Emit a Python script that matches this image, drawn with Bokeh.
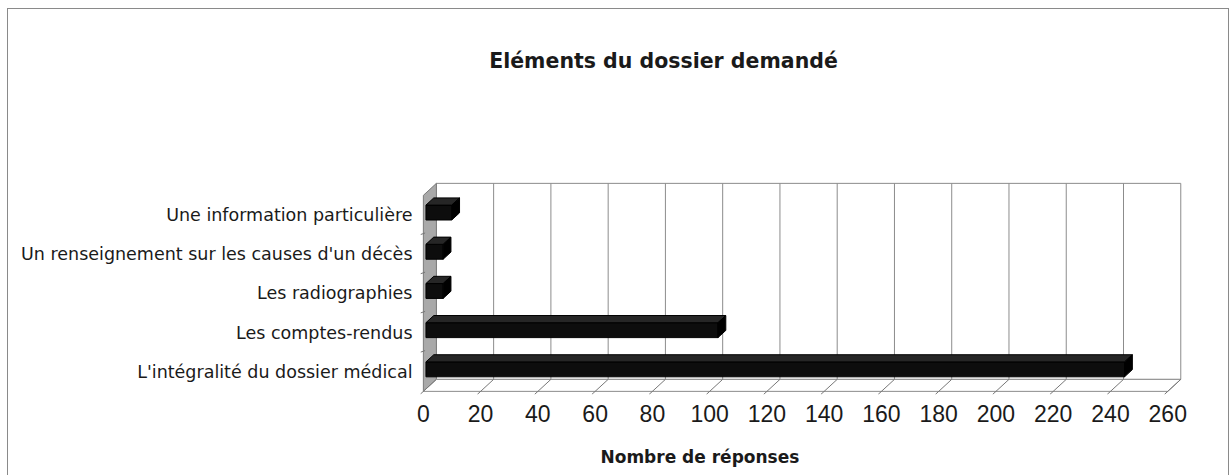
from bokeh.plotting import figure
from bokeh.models import Range1d, FixedTicker, Title
from bokeh.core.properties import value
from bokeh.embed import file_html
from bokeh.resources import INLINE

# ---------------- data ----------------
categories = [
    "L'intégralité du dossier médical",
    "Les comptes-rendus",
    "Les radiographies",
    "Un renseignement sur les causes d'un décès",
    "Une information particulière",
]
responses = [244, 102, 6, 6, 9]
x_ticks = [0, 20, 40, 60, 80, 100, 120, 140, 160, 180, 200, 220, 240, 260]
chart_title = "Eléments du dossier demandé"
x_title = "Nombre de réponses"

# ---------------- 3D geometry (data units) ----------------
X_MAX = x_ticks[-1]
N = len(categories)
DX = 4.545   # depth shift along x (value units)
DY = 0.306   # depth shift along y (category units)
D0, D1 = 0.2, 0.8   # bar depth span (fraction of full depth)
BH = 0.38            # bar front-face height (category units)

FRAME_W, FRAME_H = 763, 385
X0, X1 = -1, 265.5
PX_PER_CAT = 39.2
Y0 = -0.08
Y1 = Y0 + FRAME_H / PX_PER_CAT

p = figure(
    output_backend="svg", toolbar_location=None,
    x_range=Range1d(X0, X1), y_range=Range1d(Y0, Y1),
    frame_width=FRAME_W, frame_height=FRAME_H,
    min_border_left=412, min_border_right=45,
    min_border_top=0, min_border_bottom=81,
)
p.title.visible = False
p.background_fill_color = "white"
p.border_fill_color = "white"
p.outline_line_color = None
p.xgrid.visible = False
p.ygrid.visible = False
p.styles = {
    "margin-left": "7px",
    "margin-top": "8px",
    "border-left": "1px solid #8a8a8a",
    "border-top": "1px solid #8a8a8a",
    "border-right": "1px solid #8a8a8a",
}

# ---------------- walls and floor ----------------
grey_line = "#8c8c8c"
# back wall
p.patch([DX, X_MAX + DX, X_MAX + DX, DX], [DY, DY, N + DY, N + DY],
        fill_color="white", line_color=grey_line, line_width=1)
# left side wall
p.patch([0, DX, DX, 0], [0, DY, N + DY, N],
        fill_color="#a9a9a9", line_color="#7a7a7a", line_width=1)
# floor
p.patch([0, X_MAX, X_MAX + DX, DX], [0, 0, DY, DY],
        fill_color="white", line_color=grey_line, line_width=1)
# back-wall vertical gridlines
inner = x_ticks[1:-1]
p.segment(x0=[v + DX for v in inner], y0=[DY] * len(inner),
          x1=[v + DX for v in inner], y1=[N + DY] * len(inner),
          line_color=grey_line, line_width=1)
# floor slanted gridlines / ticks
p.segment(x0=[v - 0.25 * DX for v in x_ticks], y0=[-0.25 * DY] * len(x_ticks),
          x1=[v + DX for v in x_ticks], y1=[DY] * len(x_ticks),
          line_color="#777777", line_width=1)
# small ticks on the side wall at category boundaries
bounds = list(range(1, N))
p.segment(x0=[-1] * len(bounds), y0=bounds, x1=[0.6] * len(bounds),
          y1=[b + 0.04 for b in bounds], line_color="#777777", line_width=1)

# ---------------- 3D bars ----------------
front_xs, front_ys, top_xs, top_ys, side_xs, side_ys = [], [], [], [], [], []
ddx, ddy = (D1 - D0) * DX, (D1 - D0) * DY
for i, v in enumerate(responses):
    x0 = D0 * DX
    x1 = v + D0 * DX
    y0 = i + 0.5 - BH / 2 + D0 * DY
    y1 = y0 + BH
    front_xs.append([x0, x1, x1, x0]); front_ys.append([y0, y0, y1, y1])
    top_xs.append([x0, x1, x1 + ddx, x0 + ddx]); top_ys.append([y1, y1, y1 + ddy, y1 + ddy])
    side_xs.append([x1, x1 + ddx, x1 + ddx, x1]); side_ys.append([y0, y0 + ddy, y1 + ddy, y1])
p.patches(front_xs, front_ys, fill_color="#0d0d0d", line_color="#000000", line_width=1)
p.patches(top_xs, top_ys, fill_color="#262626", line_color="#000000", line_width=1)
p.patches(side_xs, side_ys, fill_color="#000000", line_color="#000000", line_width=1)

# ---------------- chart title (placed in the empty area above the walls) ----------------
px_x = FRAME_W / (X1 - X0)
title_x = X0 + (655 - 412) / px_x          # horizontal centre of the title
title_y = Y1 - 51 / PX_PER_CAT              # 51 px below the top of the canvas
p.text(x=[title_x], y=[title_y], text=[chart_title],
       text_align="center", text_baseline="middle",
       text_font=value("DejaVu Sans"), text_font_style="bold",
       text_font_size="20.5px", text_color="#1a1a1a")

# ---------------- axes ----------------
xa = p.xaxis[0]
xa.ticker = FixedTicker(ticks=x_ticks)
xa.axis_line_color = None
xa.major_tick_in = 0
xa.major_tick_out = 0
xa.minor_tick_line_color = None
xa.major_label_standoff = 10
xa.major_label_text_font = "Liberation Sans"
xa.major_label_text_font_size = "23px"
xa.major_label_text_color = "#1a1a1a"

ya = p.yaxis[0]
ya.ticker = FixedTicker(ticks=[i + 0.5 for i in range(N)])
ya.major_label_overrides = {i + 0.5: c for i, c in enumerate(categories)}
ya.axis_line_color = None
ya.major_tick_in = 0
ya.major_tick_out = 0
ya.minor_tick_line_color = None
ya.major_label_standoff = 8
ya.major_label_text_font = "DejaVu Sans"
ya.major_label_text_font_size = "17.5px"
ya.major_label_text_color = "#1a1a1a"

xt = Title(text="\n" + x_title, align="left", offset=180, standoff=0,
           text_font="DejaVu Sans", text_font_style="bold",
           text_font_size="17px", text_color="#1a1a1a")
p.add_layout(xt, "below")

open("out.html", "w").write(file_html(p, INLINE))
